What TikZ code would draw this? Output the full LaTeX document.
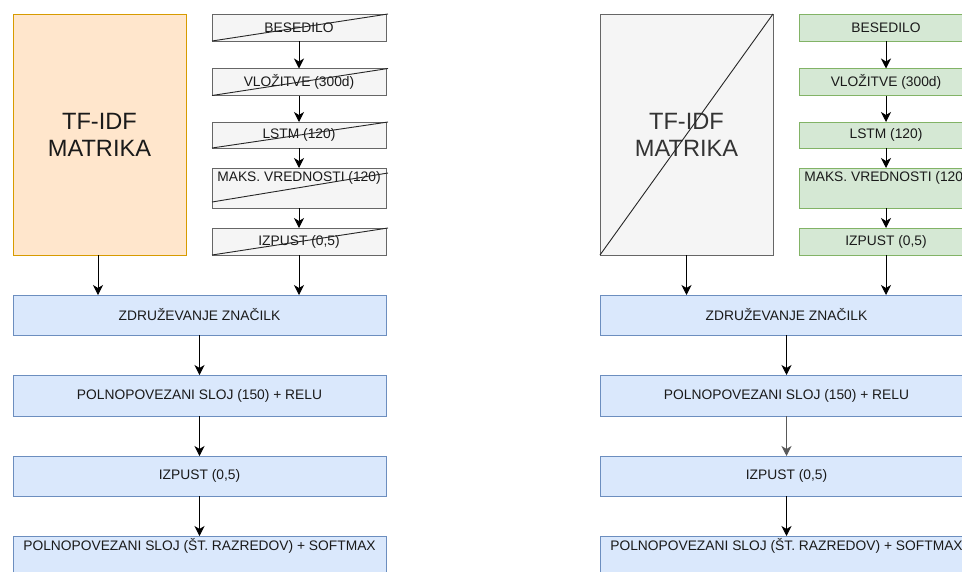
\documentclass[tikz,border=0pt]{standalone}
\usepackage{fontspec}
\setmainfont{Liberation Sans}
\usetikzlibrary{arrows.meta}
\definecolor{orfill}{HTML}{FFE6CC}
\definecolor{ordraw}{HTML}{D79B00}
\definecolor{grfill}{HTML}{F5F5F5}
\definecolor{grdraw}{HTML}{666666}
\definecolor{gnfill}{HTML}{D5E8D4}
\definecolor{gndraw}{HTML}{82B366}
\definecolor{blfill}{HTML}{DAE8FC}
\definecolor{bldraw}{HTML}{6C8EBF}
\definecolor{txtc}{HTML}{1A1A1A}
\tikzset{
  box/.style={draw, rectangle, inner sep=0pt, outer sep=0pt, line width=0.9pt, text=txtc,
    font=\fontsize{13.8}{16}\selectfont},
  orbox/.style={box, fill=orfill, draw=ordraw},
  graybox/.style={box, fill=grfill, draw=grdraw},
  greenbox/.style={box, fill=gnfill, draw=gndraw},
  bluebox/.style={box, fill=blfill, draw=bldraw},
  bigtxt/.style={font=\fontsize{23.6}{27}\selectfont, align=center},
  smtxt/.style={font=\fontsize{13.8}{16}\selectfont, text=txtc, inner sep=0pt},
  arr/.style={-{Stealth[length=10pt,width=10pt,inset=3pt]}, line width=1pt, draw=black},
  strike/.style={line width=0.9pt, draw=black!85}
}
\begin{document}
\begin{tikzpicture}[x=1pt,y=-1pt]
\useasboundingbox (0,0) rectangle (962,571);
\clip (0,0) rectangle (962,571);
% ---------- left panel ----------
\node[orbox, minimum width=173, minimum height=241, bigtxt, text=txtc] (tfa) at (99.5,134.5) {TF-IDF\\MATRIKA};
\node[graybox, minimum width=174, minimum height=27] (ba) at (299,27.5) {BESEDILO};
\node[graybox, minimum width=174, minimum height=27] (va) at (299,82) {VLOŽITVE (300d)};
\node[graybox, minimum width=174, minimum height=26] (la) at (299,135) {LSTM (120)};
\node[graybox, minimum width=174, minimum height=40] (ma) at (299,188) {};
\node[smtxt] (mat) at (299,178) {MAKS. VREDNOSTI (120)};
\node[graybox, minimum width=174, minimum height=27] (ia) at (299,241.5) {IZPUST (0,5)};
\draw[strike] (ba.south west) -- ([xshift=2pt]ba.north east);
\draw[strike] (va.south west) -- ([xshift=2pt]va.north east);
\draw[strike] (la.south west) -- ([xshift=2pt]la.north east);
\draw[strike] ([yshift=6pt]ma.south west) -- ([xshift=2pt,yshift=-5pt]ma.north east);
\draw[strike] (ia.south west) -- ([xshift=2pt]ia.north east);
\node[bluebox, minimum width=373, minimum height=40] (ga) at (199.5,315) {ZDRUŽEVANJE ZNAČILK};
\node[bluebox, minimum width=373, minimum height=41] (fa) at (199.5,395.5) {POLNOPOVEZANI SLOJ (150) + RELU};
\node[bluebox, minimum width=373, minimum height=40] (da) at (199.5,476) {IZPUST (0,5)};
\node[bluebox, minimum width=373, minimum height=40] (sa) at (199.5,556) {};
\node[smtxt] (sat) at (199.5,546) {POLNOPOVEZANI SLOJ (ŠT. RAZREDOV) + SOFTMAX};
\draw[arr] (ba) -- (va);
\draw[arr] (va) -- (la);
\draw[arr] (la) -- (ma);
\draw[arr] (ma) -- (ia);
\draw[arr] (ia.south) -- (ia.south |- ga.north);
\draw[arr] ([xshift=-1.5pt]tfa.south) -- ([xshift=-1.5pt]tfa.south |- ga.north);
\draw[arr] (ga) -- (fa);
\draw[arr] (fa) -- (da);
\draw[arr] (da) -- (sa);
% ---------- right panel ----------
\node[graybox, minimum width=173, minimum height=241, bigtxt, text=black!80] (tfb) at (686.5,134.5) {TF-IDF\\MATRIKA};
\draw[strike] (tfb.south west) -- (tfb.north east);
\node[greenbox, minimum width=174, minimum height=27] (bb) at (886,27.5) {BESEDILO};
\node[greenbox, minimum width=174, minimum height=27] (vb) at (886,82) {VLOŽITVE (300d)};
\node[greenbox, minimum width=174, minimum height=26] (lb) at (886,135) {LSTM (120)};
\node[greenbox, minimum width=174, minimum height=40] (mb) at (886,188) {};
\node[smtxt] (mbt) at (886,178) {MAKS. VREDNOSTI (120)};
\node[greenbox, minimum width=174, minimum height=27] (ib) at (886,241.5) {IZPUST (0,5)};
\node[bluebox, minimum width=373, minimum height=40] (gb) at (786.5,315) {ZDRUŽEVANJE ZNAČILK};
\node[bluebox, minimum width=373, minimum height=41] (fb) at (786.5,395.5) {POLNOPOVEZANI SLOJ (150) + RELU};
\node[bluebox, minimum width=373, minimum height=40] (db) at (786.5,476) {IZPUST (0,5)};
\node[bluebox, minimum width=373, minimum height=40] (sb) at (786.5,556) {};
\node[smtxt] (sbt) at (786.5,546) {POLNOPOVEZANI SLOJ (ŠT. RAZREDOV) + SOFTMAX};
\draw[arr] (bb) -- (vb);
\draw[arr] (vb) -- (lb);
\draw[arr] (lb) -- (mb);
\draw[arr] (mb) -- (ib);
\draw[arr] (ib.south) -- (ib.south |- gb.north);
\draw[arr] (tfb.south) -- (tfb.south |- gb.north);
\draw[arr] (gb) -- (fb);
\draw[arr, draw=black!65] (fb) -- (db);
\draw[arr] (db) -- (sb);
\end{tikzpicture}
\end{document}
